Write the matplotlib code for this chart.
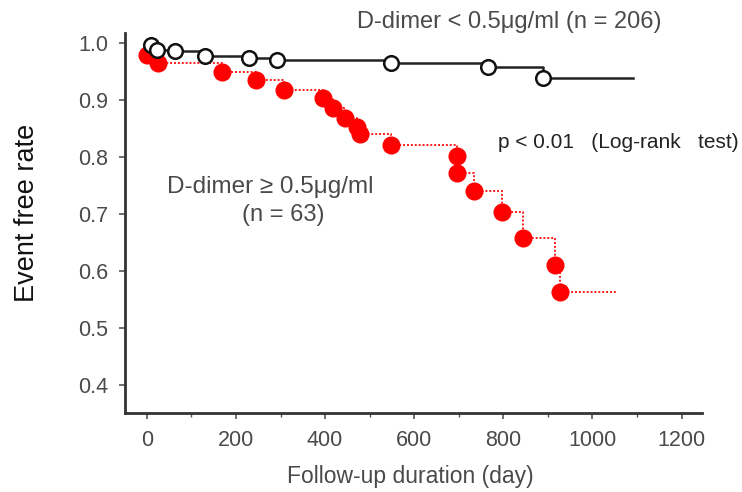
import matplotlib
matplotlib.use("Agg")
import matplotlib.pyplot as plt

plt.rcParams['font.family'] = ['Liberation Sans', 'DejaVu Sans']

# low D-dimer group (open circles)
low_days = [10, 23, 63, 130, 229, 291, 549, 766, 890]
low_rate = [0.997, 0.989, 0.986, 0.978, 0.974, 0.971, 0.965, 0.958, 0.939]
low_end = 1091

# high D-dimer group (red filled)
high_days = [0, 25, 169, 244, 308, 396, 418, 445, 471, 478, 549, 695, 695,
             734, 796, 845, 916, 927]
high_rate = [0.980, 0.965, 0.950, 0.936, 0.919, 0.904, 0.886, 0.869, 0.854,
             0.841, 0.822, 0.802, 0.773, 0.741, 0.704, 0.658, 0.611, 0.563]
high_end = 1055

xticks = [0, 200, 400, 600, 800, 1000, 1200]
yticks = [0.4, 0.5, 0.6, 0.7, 0.8, 0.9, 1.0]

fig = plt.figure(figsize=(7.42, 4.92), dpi=100)
ax = fig.add_axes([0.1685, 0.1606, 0.777, 0.772])

gray = '#4a4a4a'

ax.step(high_days + [high_end], high_rate + [high_rate[-1]], where='post',
        color='#ff1a1a', lw=1.4, ls=(0, (1, 1)), zorder=2)
ax.plot(high_days, high_rate, 'o', ms=12, color='#ff0000', mec='#ff0000', zorder=3)

ax.step(low_days + [low_end], low_rate + [low_rate[-1]], where='post',
        color='#222222', lw=1.8, zorder=4)
ax.plot(low_days, low_rate, 'o', ms=10.5, mfc='white', mec='#111111', mew=1.8, zorder=5)

ax.set_xlim(-49, 1245)
ax.set_ylim(0.351, 1.018)
ax.set_xticks(xticks)
ax.set_xticks(range(100, 1200, 200), minor=True)
ax.set_yticks(yticks)
ax.set_yticklabels(['%.1f' % v for v in yticks])

for s in ['top', 'right']:
    ax.spines[s].set_visible(False)
for s in ['left', 'bottom']:
    ax.spines[s].set_linewidth(2.0)
    ax.spines[s].set_color('#333333')

ax.tick_params(axis='both', which='major', length=4, width=1.2, color='#555555',
               labelsize=15.5, labelcolor=gray, pad=8)
ax.tick_params(axis='x', which='minor', length=3, width=1.0, color='#555555')

ax.set_xlabel('Follow-up duration (day)', fontsize=16.5, color=gray)
ax.xaxis.set_label_coords(0.494, -0.168)
ax.xaxis.label.set_va('center')
ax.set_ylabel('Event free rate', fontsize=19.5, color='#111111')
ax.yaxis.set_label_coords(-0.17, 0.526)
ax.yaxis.label.set_va('center')

fig.text(357 / 742, 1 - 22 / 492, 'D-dimer < 0.5μg/ml (n = 206)', fontsize=17,
         color=gray, va='center', ha='left')
fig.text(498 / 742, 1 - 143 / 492, 'p < 0.01   (Log-rank   test)', fontsize=15,
         color='#222222', va='center', ha='left')
fig.text(270 / 742, 1 - 187 / 492, 'D-dimer ≥ 0.5μg/ml', fontsize=17.5,
         color=gray, va='center', ha='center')
fig.text(283 / 742, 1 - 215 / 492, '(n = 63)', fontsize=17,
         color=gray, va='center', ha='center')

fig.savefig('out.png', dpi=100)
